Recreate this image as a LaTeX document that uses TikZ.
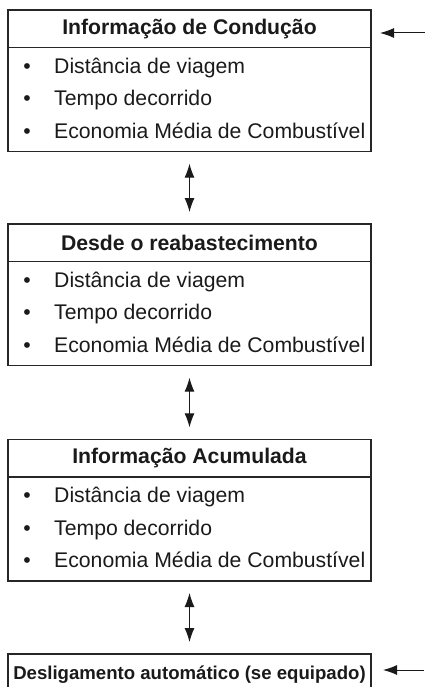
\documentclass[tikz,border=0pt]{standalone}
\usepackage{fontspec}
\setmainfont{Liberation Sans}
\usetikzlibrary{arrows.meta}
\definecolor{boxc}{HTML}{262626}
\definecolor{arrc}{HTML}{1A1A1A}
\definecolor{txtc}{HTML}{1A1A1A}
\begin{document}
\begin{tikzpicture}[x=1pt,y=-1pt,
  box/.style={draw=boxc, line width=1.4pt, minimum width=363pt, inner sep=0pt, outer sep=0pt, text=txtc},
  hdr/.style={box, anchor=north, minimum height=37.7pt, font=\fontsize{21.2}{25}\selectfont\bfseries},
  lst/.style={box, anchor=north, minimum height=104pt},
  itemtxt/.style={anchor=base west, inner sep=0pt, text=txtc, font=\fontsize{21.2}{25}\selectfont},
  bul/.style={anchor=base, inner sep=0pt, text=txtc, font=\fontsize{21.2}{25}\selectfont},
  link/.style={draw=arrc, line width=1pt, {Latex[length=14pt,width=10pt]}-{Latex[length=14pt,width=10pt]}, shorten <=12pt, shorten >=12pt},
  feed/.style={draw=arrc, line width=1pt, -{Latex[length=14pt,width=10pt]}}
]
\useasboundingbox (0,0) rectangle (426,687);
\begin{scope}
\clip (0,0) rectangle (426,687);
% Box 1
\node[hdr] (h1) at (189.5,10) {Informação de Condução};
\node[lst] (l1) at (h1.south) {};
% Box 2
\node[hdr] (h2) at (189.5,224) {Desde o reabastecimento};
\node[lst] (l2) at (h2.south) {};
% Box 3
\node[hdr] (h3) at (189.5,439.3) {Informação Acumulada};
\node[lst] (l3) at (h3.south) {};
% Box 4
\node[box, anchor=north, minimum height=42pt, font=\fontsize{18.6}{22}\selectfont\bfseries] (h4) at (189.5,654) {Desligamento automático (se equipado)};
\end{scope}
% Items
\foreach \l in {l1,l2,l3}{
  \node[bul] (\l b1) at ([yshift=-25.5pt]\l.north west -| 27,0) {•};
  \node[itemtxt] (\l t1) at ([yshift=-25.5pt]\l.north west -| 54,0) {Distância de viagem};
  \node[bul] (\l b2) at ([yshift=-58pt]\l.north west -| 27,0) {•};
  \node[itemtxt] (\l t2) at ([yshift=-58pt]\l.north west -| 54,0) {Tempo decorrido};
  \node[bul] (\l b3) at ([yshift=-90.5pt]\l.north west -| 27,0) {•};
  \node[itemtxt] (\l t3) at ([yshift=-90.5pt]\l.north west -| 54,0) {Economia Média de Combustível};
}
% Links between boxes
\draw[link] (l1.south) -- (h2.north);
\draw[link] (l2.south) -- (h3.north);
\draw[link] (l3.south) -- (h4.north);
% Incoming arrows
\coordinate (in1) at (425,33);
\coordinate (in4) at (424,670);
\draw[feed, shorten >=9pt] (in1) -- (in1 -| h1.east);
\draw[feed, shorten >=12pt] (in4) -- (in4 -| h4.east);
\end{tikzpicture}
\end{document}
